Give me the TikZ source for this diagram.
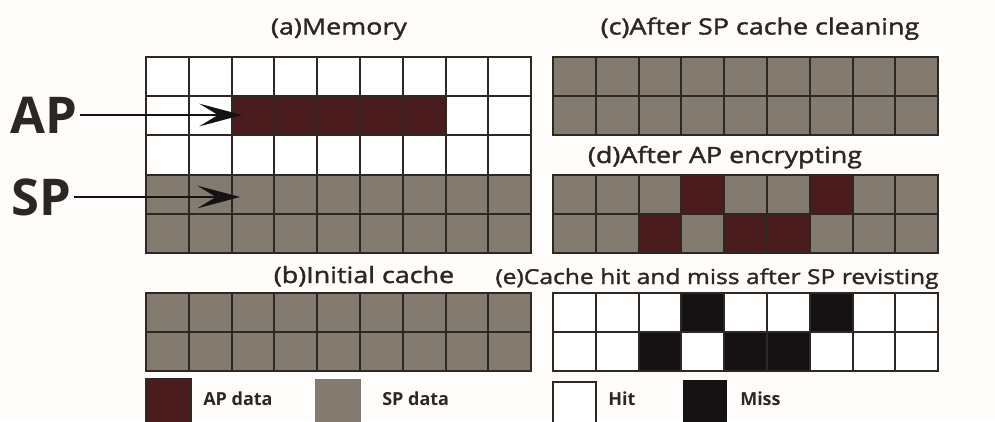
\documentclass[tikz,border=0pt]{standalone}
\usepackage{fontspec}
\setmainfont{Open Sans}
\newfontfamily\titrefont{Open Sans}[FakeStretch=1.2,FakeBold=1.6]
\usetikzlibrary{arrows.meta}

\definecolor{apdonnee}{HTML}{4B1C1D}
\definecolor{spdonnee}{HTML}{837A70}
\definecolor{trait}{HTML}{2E2722}
\definecolor{fond}{HTML}{FEFDFB}
\definecolor{defaut}{HTML}{141212}
\definecolor{texte}{HTML}{2A2727}

\begin{document}
\begin{tikzpicture}[x=0.75pt,y=-0.75pt]

% définition des styles
\tikzstyle{cellule}=[draw=trait,line width=1.6pt]
\tikzstyle{ap}=[fill=apdonnee]
\tikzstyle{sp}=[fill=spdonnee]
\tikzstyle{miss}=[fill=defaut]
\tikzstyle{titre}=[anchor=base,inner sep=0pt,text=texte,font=\titrefont\fontsize{16.8}{20}\selectfont]
\tikzstyle{legende}=[anchor=base west,inner sep=0pt,text=texte,font=\bfseries\fontsize{13.5}{16}\selectfont]
\tikzstyle{etiquette}=[inner sep=2pt,text=texte,font=\bfseries\fontsize{38}{40}\selectfont]
\tikzstyle{fleche}=[-{Stealth[length=32pt,width=17pt,inset=14pt]},line width=2.2pt,draw=defaut]

% le fond
\fill[fond] (0,0) rectangle (995,421);
\clip (0,0) rectangle (995,421);

% (a) la mémoire
\fill[white] (146,57) rectangle (531.2,174.6);
\fill[sp] (146,174.6) rectangle (531.2,253);
\fill[ap] (231.6,96.2) rectangle (445.6,135.4);
\foreach \i in {0,...,8}
  \foreach \j in {0,...,4}
    \draw[cellule] ({146+42.8*\i},{57+39.2*\j}) rectangle +(42.8,39.2);

% (b) le cache initial
\fill[sp] (146,293) rectangle (531.2,371);
\foreach \i in {0,...,8}
  \foreach \j in {0,1}
    \draw[cellule] ({146+42.8*\i},{293+39*\j}) rectangle +(42.8,39);

% (c) après le nettoyage
\fill[sp] (553,57) rectangle (938.2,135);
\foreach \i in {0,...,8}
  \foreach \j in {0,1}
    \draw[cellule] ({553+42.8*\i},{57+39*\j}) rectangle +(42.8,39);

% (d) après le chiffrement
\fill[sp] (553,175) rectangle (938.2,253);
\foreach \i/\j in {3/0,6/0,2/1,4/1,5/1}
  \fill[ap] ({553+42.8*\i},{175+39*\j}) rectangle +(42.8,39);
\foreach \i in {0,...,8}
  \foreach \j in {0,1}
    \draw[cellule] ({553+42.8*\i},{175+39*\j}) rectangle +(42.8,39);

% (e) hit et miss
\fill[white] (553,293) rectangle (938.2,371);
\foreach \i/\j in {3/0,6/0,2/1,4/1,5/1}
  \fill[miss] ({553+42.8*\i},{293+39*\j}) rectangle +(42.8,39);
\foreach \i in {0,...,8}
  \foreach \j in {0,1}
    \draw[cellule] ({553+42.8*\i},{293+39*\j}) rectangle +(42.8,39);

% les titres
\node[titre] (titreA) at (339,34.5) {(a)Memory};
\node[titre] (titreB) at (364,283) {(b)Initial cache};
\node[titre] (titreC) at (760,34.5) {(c)After SP cache cleaning};
\node[titre] (titreD) at (725,163) {(d)After AP encrypting};
\node[titre,font=\titrefont\fontsize{15.4}{18}\selectfont] (titreE) at (717,284) {(e)Cache hit and miss after SP revisting};

% les étiquettes et les flèches
\node[etiquette] (AP) at (43.5,115) {AP};
\node[etiquette] (SP) at (41,197) {SP};
\coordinate (pointeAP) at (242,115);
\coordinate (pointeSP) at (240,197);
\draw[fleche] (AP) -- (pointeAP);
\draw[fleche] (SP) -- (pointeSP);

% la légende
\draw[cellule,ap] (146,379) rectangle (191,430);
\node[legende] (legAP) at (203,405) {AP data};
\fill[sp] (315,379) rectangle (361,430);
\node[legende] (legSP) at (382,405) {SP data};
\draw[cellule,fill=white] (553,382) rectangle (596,430);
\node[legende] (legHit) at (608,405) {Hit};
\fill[miss] (683,380) rectangle (727,430);
\node[legende] (legMiss) at (740,405) {Miss};

\end{tikzpicture}
\end{document}
